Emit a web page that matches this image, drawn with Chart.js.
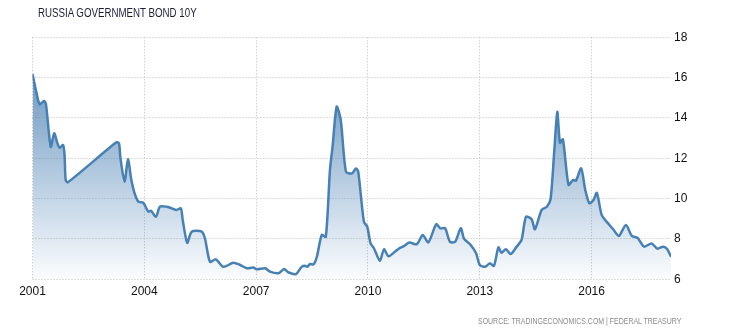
<!DOCTYPE html>
<html>
<head>
<meta charset="utf-8">
<script src="https://cdn.jsdelivr.net/npm/chart.js@4"></script>
<style>
  html, body { margin: 0; padding: 0; background: #fff; }
  #wrap { position: relative; width: 739px; height: 332px; }
  #c { position: absolute; left: 0; top: 0; }
  #title { position: absolute; left: 38px; top: 6px; font-family: "Liberation Sans", Arial, sans-serif; font-size: 12px; color: #1c1c38; white-space: nowrap; transform: scaleX(0.81); transform-origin: 0 0; }
  #source { position: absolute; left: 478px; top: 316px; font-family: "Liberation Sans", Arial, sans-serif; font-size: 8.5px; color: #8a8a8a; white-space: nowrap; transform: scaleX(0.82); transform-origin: 0 0; }
</style>
</head>
<body>
<div id="wrap">
  <canvas id="c" width="739" height="332"></canvas>
  <div id="title">RUSSIA GOVERNMENT BOND 10Y</div>
  <div id="source">SOURCE: TRADINGECONOMICS.COM | FEDERAL TREASURY</div>
</div>
<script>
// Decimal-year positions of the observations
const years = [
  2001.00, 2001.10, 2001.19, 2001.31, 2001.36, 2001.49, 2001.58, 2001.67, 2001.73, 2001.82,
  2001.86, 2001.89, 2001.95, 2003.25, 2003.32, 2003.36, 2003.47, 2003.56, 2003.65, 2003.74,
  2003.84, 2003.97, 2004.11, 2004.18, 2004.31, 2004.42, 2004.60, 2004.73, 2004.87, 2004.98,
  2005.03, 2005.15, 2005.27, 2005.54, 2005.63, 2005.76, 2005.92, 2006.12, 2006.39, 2006.57,
  2006.75, 2006.92, 2007.02, 2007.24, 2007.37, 2007.60, 2007.75, 2007.86, 2008.07, 2008.22,
  2008.31, 2008.37, 2008.45, 2008.54, 2008.63, 2008.76, 2008.87, 2008.98, 2009.05, 2009.16,
  2009.27, 2009.41, 2009.57, 2009.68, 2009.74, 2009.89, 2009.98, 2010.07, 2010.16, 2010.32,
  2010.43, 2010.55, 2010.73, 2010.86, 2010.95, 2011.11, 2011.31, 2011.47, 2011.62, 2011.83,
  2011.94, 2012.07, 2012.20, 2012.34, 2012.49, 2012.58, 2012.74, 2012.90, 2013.00, 2013.14,
  2013.27, 2013.38, 2013.50, 2013.58, 2013.70, 2013.83, 2013.99, 2014.12, 2014.24, 2014.39,
  2014.48, 2014.66, 2014.80, 2014.90, 2015.00, 2015.08, 2015.15, 2015.23, 2015.38, 2015.50,
  2015.58, 2015.72, 2015.83, 2015.94, 2016.05, 2016.14, 2016.27, 2016.40, 2016.58, 2016.73,
  2016.92, 2017.08, 2017.23, 2017.41, 2017.61, 2017.76, 2017.92, 2018.03, 2018.13
];
// Bond yield, percent
const yields = [
  16.18, 15.30, 14.68, 14.84, 14.70, 12.57, 13.24, 12.74, 12.52, 12.66,
  12.16, 10.92, 10.81, 12.79, 12.74, 12.00, 10.84, 11.95, 10.95, 10.26,
  9.85, 9.80, 9.35, 9.40, 9.10, 9.60, 9.60, 9.52, 9.44, 9.52,
  8.94, 7.81, 8.36, 8.36, 8.00, 6.87, 6.99, 6.62, 6.82, 6.71,
  6.55, 6.58, 6.50, 6.55, 6.38, 6.30, 6.51, 6.35, 6.26, 6.62,
  6.67, 6.62, 6.76, 6.74, 7.12, 8.20, 8.11, 11.42, 12.57, 14.56,
  13.90, 11.33, 11.25, 11.50, 11.33, 8.86, 8.61, 7.78, 7.54, 6.92,
  7.49, 7.14, 7.38, 7.56, 7.63, 7.82, 7.74, 8.20, 7.83, 8.73,
  8.53, 8.53, 7.86, 7.86, 8.53, 8.00, 7.74, 7.29, 6.71, 6.62,
  6.79, 6.67, 7.58, 7.32, 7.49, 7.25, 7.62, 7.95, 9.10, 8.98,
  8.48, 9.44, 9.60, 9.98, 12.41, 14.31, 12.77, 12.94, 10.68, 10.92,
  10.89, 11.50, 10.43, 9.77, 9.93, 10.29, 9.19, 8.86, 8.48, 8.15,
  8.69, 8.15, 8.06, 7.62, 7.78, 7.52, 7.62, 7.49, 7.12
];
const xTickYears = [2001, 2004, 2007, 2010, 2013, 2016];
const yTickValues = [6, 8, 10, 12, 14, 16, 18];

const points = years.map((y, i) => ({ x: y, y: yields[i] }));

const ctx = document.getElementById('c').getContext('2d');
new Chart(ctx, {
  type: 'line',
  data: {
    datasets: [{
      data: points,
      borderColor: '#4680b5',
      borderWidth: 2.5,
      pointRadius: 0,
      tension: 0.25,
      fill: 'start',
      backgroundColor: (c) => {
        const ca = c.chart.chartArea;
        if (!ca) return 'rgba(70,128,181,0.3)';
        const g = c.chart.ctx.createLinearGradient(0, ca.top, 0, ca.bottom);
        g.addColorStop(0, 'rgba(70,125,178,0.92)');
        g.addColorStop(1, 'rgba(70,125,178,0.02)');
        return g;
      }
    }]
  },
  options: {
    responsive: false,
    animation: false,
    events: [],
    layout: { padding: { left: 32.5, top: 37.3, right: 0, bottom: 0 } },
    plugins: { legend: { display: false }, tooltip: { enabled: false }, title: { display: false } },
    scales: {
      x: {
        type: 'linear',
        min: 2001,
        max: 2018.13,
        afterFit: (s) => { s.height = 52.7; },
        afterBuildTicks: (s) => { s.ticks = xTickYears.map(v => ({ value: v })); },
        ticks: {
          padding: 5,
          color: '#111',
          font: { family: 'Liberation Sans, Arial, sans-serif', size: 12 },
          maxRotation: 0,
          autoSkip: false,
          callback: (v) => String(v)
        },
        grid: { color: '#bdbdbd', drawTicks: false, lineWidth: 1 },
        border: { display: false, dash: [1, 2] }
      },
      y: {
        position: 'right',
        min: 6,
        max: 18,
        afterFit: (s) => { s.width = 68; },
        afterBuildTicks: (s) => { s.ticks = yTickValues.map(v => ({ value: v })); },
        ticks: {
          padding: 3,
          color: '#111',
          font: { family: 'Liberation Sans, Arial, sans-serif', size: 12 },
          callback: (v) => String(v)
        },
        grid: { color: '#bdbdbd', drawTicks: false, lineWidth: 1 },
        border: { display: false, dash: [1, 2] }
      }
    }
  }
});
</script>
</body>
</html>
